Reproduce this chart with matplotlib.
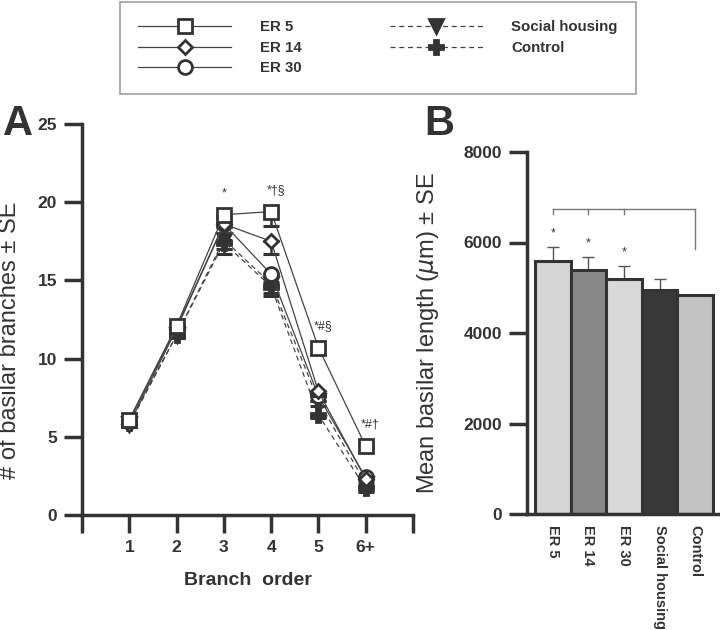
import matplotlib
matplotlib.use("Agg")
import matplotlib.pyplot as plt
import numpy as np

plt.rcParams['font.family'] = ['Liberation Sans', 'DejaVu Sans']

# ---------------- Data ----------------
orders = ["1", "2", "3", "4", "5", "6+"]
series_names = ["ER 5", "ER 14", "ER 30", "Social housing", "Control"]

er5 = [6.1, 12.1, 19.2, 19.4, 10.7, 4.4]
er14 = [5.8, 11.9, 18.6, 17.5, 7.9, 2.3]
er30 = [6.0, 12.0, 18.6, 15.4, 7.6, 2.4]
social = [5.8, 11.5, 17.6, 14.8, 7.3, 2.0]
control = [5.9, 11.5, 17.4, 14.6, 6.4, 1.7]

er5_se = [0.2, 0.2, 0.2, 0.9, 0.4, 0.1]
er14_se = [0.2, 0.2, 0.2, 0.8, 0.3, 0.1]
er30_se = [0.2, 0.2, 0.2, 0.5, 0.3, 0.1]
social_se = [0.2, 0.2, 0.9, 0.8, 0.3, 0.2]
control_se = [0.2, 0.2, 0.4, 0.4, 0.2, 0.2]

annot_a = ["", "", "*", "*\u2020\u00a7", "*#\u00a7", "*#\u2020"]

bar_groups = ["ER 5", "ER 14", "ER 30", "Social housing", "Control"]
bar_means = [5600, 5400, 5200, 4950, 4850]
bar_se = [290, 270, 270, 240, 0]
bar_colors = ["#d6d6d6", "#888888", "#d9d9d9", "#383838", "#c2c2c2"]
bar_annot = ["*", "*", "*", "", ""]

dark = "#333333"

fig = plt.figure(figsize=(7.2, 6.3), dpi=100)

# ---------------- Panel A ----------------
axA = fig.add_axes([82/720, 1-515/630, (413-82)/720, (515-124)/630])
x = np.arange(1, len(orders)+1)

styles = [
    dict(data=er5, se=er5_se, marker='s', ms=10, mfc='white', ls='-', lab="ER 5"),
    dict(data=er14, se=er14_se, marker='D', ms=7, mfc='white', ls='-', lab="ER 14"),
    dict(data=er30, se=er30_se, marker='o', ms=10, mfc='white', ls='-', lab="ER 30"),
    dict(data=social, se=social_se, marker='v', ms=10, mfc=dark, ls=(0, (4, 3)), lab="Social housing"),
    dict(data=control, se=control_se, marker='P', ms=10, mfc=dark, ls=(0, (4, 3)), lab="Control"),
]

handles = [None] * len(styles)
n = len(styles)
for i, st in enumerate(reversed(styles)):
    idx = n - 1 - i
    d = np.array(st['data'])
    se = np.array(st['se'])
    z = 3 + 2 * i
    axA.errorbar(x, d, yerr=[se, np.zeros_like(se)], fmt='none', ecolor=dark,
                 elinewidth=1.8, capsize=6, capthick=2.2, zorder=z)
    ln, = axA.plot(x, st['data'], color='#444444', lw=0.9, ls=st['ls'],
                   marker=st['marker'], ms=st['ms'], mfc=st['mfc'], mec=dark,
                   mew=2.0, zorder=z + 1, label=st['lab'])
    handles[idx] = ln

for xi, txt, top in zip(x, annot_a, np.max([er5, er14, er30, social, control], axis=0)):
    if txt:
        axA.text(xi + (0.1 if len(txt) > 1 else 0), top + 1.0, txt, ha='center',
                 va='bottom', fontsize=9, color=dark)

axA.set_xlim(0, 7)
axA.set_ylim(0, 25)
axA.set_xticks(np.arange(0, 8))
axA.set_xticklabels([""] + orders + [""])
axA.set_yticks([0, 5, 10, 15, 20, 25])
for s in ['top', 'right']:
    axA.spines[s].set_visible(False)
for s in ['left', 'bottom']:
    axA.spines[s].set_linewidth(2.5)
    axA.spines[s].set_color(dark)
axA.tick_params(axis='both', direction='out', length=13, width=2.5, color=dark,
                labelsize=12.5, labelcolor=dark, pad=5)
for lab in axA.get_xticklabels() + axA.get_yticklabels():
    lab.set_fontweight('bold')
axA.set_xlabel("Branch  order", fontsize=14, fontweight='bold', color=dark, labelpad=12)
axA.set_ylabel("# of basilar branches \u00b1 SE", fontsize=17, color=dark)
axA.yaxis.set_label_coords((21 - 82) / 331, (515 - 340) / 391)
fig.text(3/720, 1-135/630, "A", fontsize=30, fontweight='bold', color=dark)

# ---------------- Panel B ----------------
axB = fig.add_axes([527/720, 1-514/630, (720-527)/720, (514-152)/630])
bx = np.arange(len(bar_groups))
axB.bar(bx, bar_means, width=1.0, color=bar_colors, edgecolor=dark, linewidth=2.2, zorder=2)
for xi, m, se in zip(bx, bar_means, bar_se):
    if se > 0:
        axB.errorbar([xi], [m], yerr=[[0], [se]], fmt='none', ecolor='#555555',
                     elinewidth=1.0, capsize=4, capthick=1.0, zorder=1)
for xi, m, se, t in zip(bx, bar_means, bar_se, bar_annot):
    if t:
        axB.text(xi, m + se + 180, t, ha='center', va='bottom', fontsize=9, color=dark)

# significance bracket
br_y = 6750
axB.plot([bx[0], bx[-1]], [br_y, br_y], color='#777777', lw=1.0, clip_on=False)
axB.plot([bx[0], bx[0]], [br_y, br_y - 120], color='#777777', lw=1.0)
axB.plot([bx[1], bx[1]], [br_y, br_y - 120], color='#777777', lw=1.0)
axB.plot([bx[2], bx[2]], [br_y, br_y - 120], color='#777777', lw=1.0)
axB.plot([bx[-1], bx[-1]], [br_y, 5850], color='#777777', lw=1.0)

axB.set_xlim(-0.725, 4.7)
axB.set_ylim(0, 8000)
axB.set_yticks([0, 2000, 4000, 6000, 8000])
axB.set_xticks(bx)
axB.set_xticklabels(bar_groups, rotation=270, fontsize=10.5, fontweight='bold',
                    color=dark, va='top', ha='center')
for s in ['top', 'right']:
    axB.spines[s].set_visible(False)
for s in ['left', 'bottom']:
    axB.spines[s].set_linewidth(2.5)
    axB.spines[s].set_color(dark)
axB.tick_params(axis='y', direction='out', length=13, width=2.5, color=dark,
                labelsize=12.5, labelcolor=dark, pad=5)
axB.tick_params(axis='x', length=0, pad=8)
for lab in axB.get_yticklabels():
    lab.set_fontweight('bold')
axB.set_ylabel("Mean basilar length ($\\mu$m) \u00b1 SE", fontsize=17, color=dark)
axB.yaxis.set_label_coords((441 - 527) / 193, 0.5)
fig.text(424/720, 1-135/630, "B", fontsize=30, fontweight='bold', color=dark)

# ---------------- Legend ----------------
leg = fig.legend(handles=handles, labels=series_names, loc='upper left',
                 bbox_to_anchor=(120/720, 1-2/630), ncol=2, frameon=True,
                 fancybox=False, edgecolor='#888888',
                 prop={'weight': 'bold', 'size': 10.8}, handlelength=6.2,
                 handletextpad=1.9, columnspacing=5.9, labelspacing=0.45,
                 borderpad=1.2, borderaxespad=0)
leg.get_frame().set_linewidth(1.2)
for t in leg.get_texts():
    t.set_color(dark)

fig.savefig("out.png", dpi=100)
